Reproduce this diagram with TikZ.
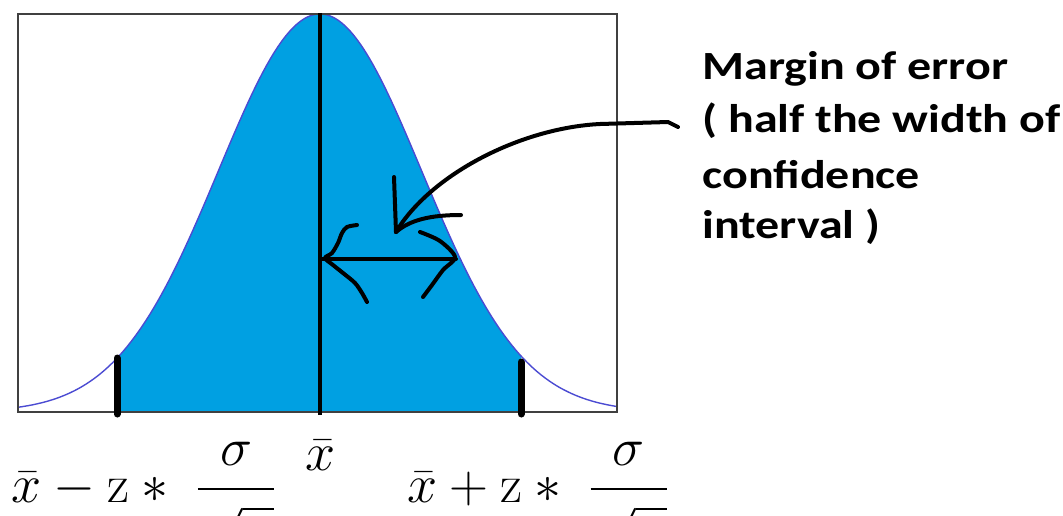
\RequirePackage{fix-cm}
\documentclass[tikz,border=0pt]{standalone}
\usepackage{amsmath}
\usepackage{fontspec}
\usepackage{tikz}
\newfontfamily\notefont[FakeStretch=1.2]{Carlito}
\definecolor{bellfill}{HTML}{00A0E2}
\definecolor{belledge}{HTML}{4B4BD2}
\definecolor{framegray}{HTML}{404040}

\begin{document}
\begin{tikzpicture}[x=0.5pt,y=-0.5pt,
  hand/.style={line width=2pt,line cap=round,line join=round},
  limit/.style={line width=3.5pt,line cap=round},
  eq/.style={font=\fontsize{27}{32}\selectfont,inner sep=0pt},
  note/.style={font=\notefont\bfseries\fontsize{20}{26}\selectfont,inner sep=0pt,anchor=base west}]
  \useasboundingbox (0,0) rectangle (1063,515);
  \clip (0,0) rectangle (1063,515);
  \fill[bellfill] (117,412) -- plot[domain=117:521,samples=90] (\x,{412-398*exp(-0.5*((\x-320)/101.5)^2)}) -- (521,412) -- cycle;
  \draw[belledge,line width=0.7pt] plot[domain=18:617,samples=160] (\x,{412-398*exp(-0.5*((\x-320)/101.5)^2)});
  \draw[framegray,line width=0.8pt] (18,14) rectangle (617,412);
  \draw[line width=1.8pt] (320,13) -- (320,415);
  \foreach \bx/\by in {117/358,521/362}
    \draw[limit] (\bx,\by) -- (\bx,414);
  % margin of error, drawn by hand
  \draw[hand] (322,259) -- (456,259);
  \draw[hand] plot[smooth] coordinates {(357,225) (347,227) (342,233) (338,243) (332,253) (325,258) (333,265) (343,273) (355,283) (362,293) (367,302)};
  \draw[hand] plot[smooth] coordinates {(420,232) (440,241) (455,257) (443,270) (432,285) (423,297)};
  \foreach \n/\yy/\t in {1/79/Margin of error,2/132/( half the width of,3/188/confidence,4/238/interval )}
    \node[note] (moe\n) at (702,\yy) {\t};
  \coordinate (tail) at (678,127);
  \coordinate (tip) at (396,232);
  \draw[hand] (tail) -- (668,122) -- (600,124) .. controls (520,128) and (430,175) .. (tip);
  \draw[hand] (394,177) -- (tip);
  \draw[hand] (tip) .. controls (410,220) and (430,215) .. (461,215);
  % limits below the axis
  \node[eq,anchor=base west] (lower) at (11,502) {$\bar{x} - \mathrm{z} * \;\dfrac{\sigma}{\raisebox{-5pt}{$\sqrt{n}$}}$};
  \node[eq,anchor=base] (mean) at (321,470) {$\bar{x}$};
  \node[eq,anchor=base east] (upper) at (670,502) {$\bar{x} + \mathrm{z} * \;\dfrac{\sigma}{\raisebox{-5pt}{$\sqrt{n}$}}$};
\end{tikzpicture}
\end{document}
